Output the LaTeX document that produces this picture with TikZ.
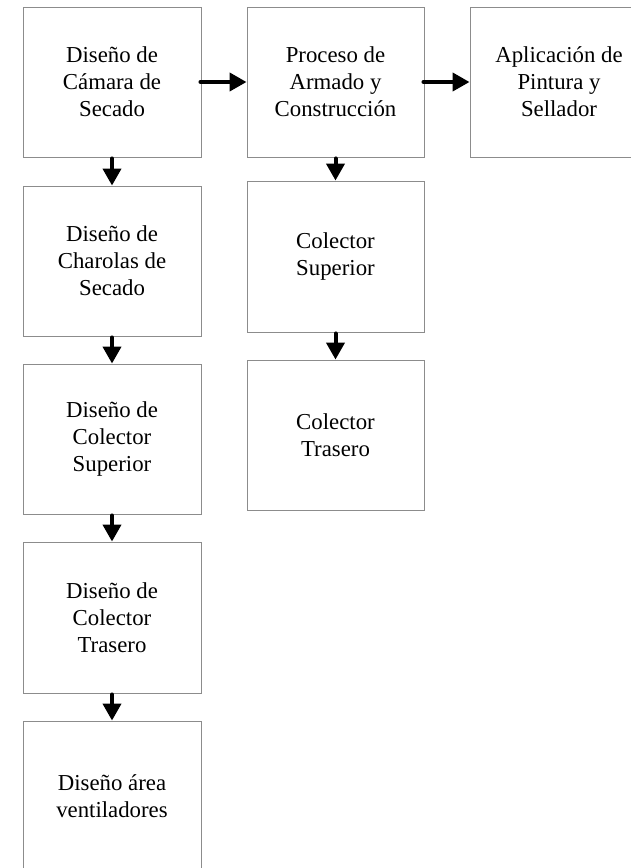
\documentclass[tikz,border=0pt]{standalone}
\usepackage{fontspec}
\setmainfont{Liberation Serif}
\usetikzlibrary{arrows.meta}
\definecolor{boxgray}{HTML}{8C8C8C}
\begin{document}
\begin{tikzpicture}[x=1pt,y=-1pt,
  box/.style={draw=boxgray, line width=0.9pt, minimum width=178pt, minimum height=150pt,
    inner sep=0pt, align=center, font=\fontsize{22.8}{27}\selectfont},
  arr/.style={line width=4pt, line cap=round, -{Triangle[length=17pt,width=18pt]}}]
\useasboundingbox (0,0) rectangle (631,868);
\clip (0,0) rectangle (631,868);
\fill[white] (0,0) rectangle (631,868);
% left column
\node[box] (b1) at (112,82) {Diseño de\\Cámara de\\Secado};
\node[box] (b2) at (112,261) {Diseño de\\Charolas de\\Secado};
\node[box] (b3) at (112,439) {Diseño de\\Colector\\Superior};
\node[box, minimum height=151pt] (b4) at (112,617.5) {Diseño de\\Colector\\Trasero};
\node[box] (b5) at (112,796) {Diseño área\\ventiladores};
% middle column
\node[box, minimum width=177pt] (m1) at (335.5,82) {Proceso de\\Armado y\\Construcción};
\node[box, minimum width=177pt, minimum height=151pt] (m2) at (335.5,256.5) {Colector\\Superior};
\node[box, minimum width=177pt] (m3) at (335.5,435) {Colector\\Trasero};
% right
\node[box] (r1) at (559,82) {Aplicación de\\Pintura y\\Sellador};
% arrows
\draw[arr] ([xshift=-1pt]b1.east) -- (m1.west);
\draw[arr] ([xshift=-1pt]m1.east) -- (r1.west);
\draw[arr] ([yshift=-1pt]b1.south) -- (b2.north);
\draw[arr] ([yshift=-1pt]b2.south) -- (b3.north);
\draw[arr] ([yshift=-1pt]b3.south) -- (b4.north);
\draw[arr] ([yshift=-1pt]b4.south) -- (b5.north);
\draw[arr] ([yshift=-1pt]m1.south) -- (m2.north);
\draw[arr] ([yshift=-1pt]m2.south) -- (m3.north);
\end{tikzpicture}
\end{document}
